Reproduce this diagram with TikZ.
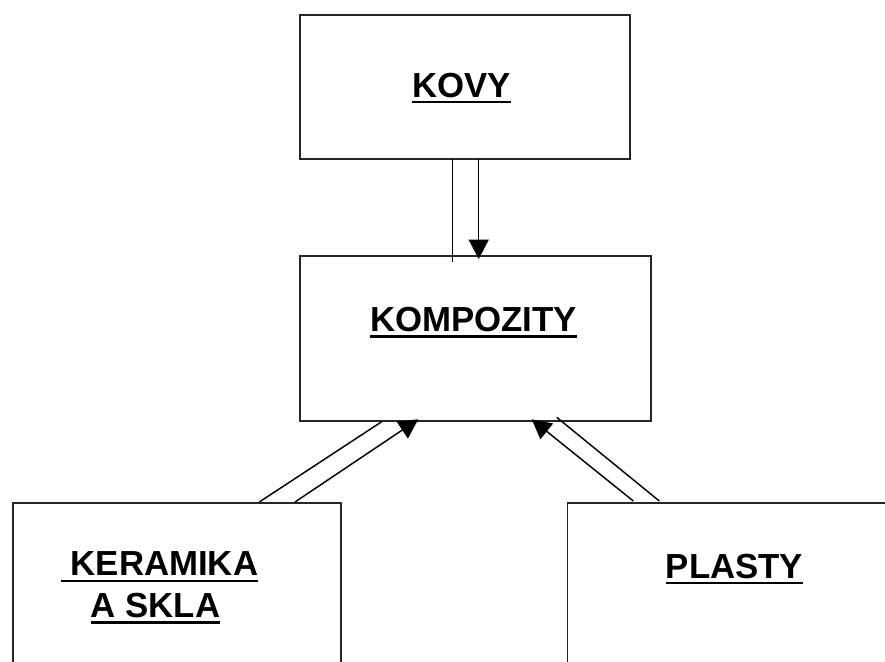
\documentclass[tikz,border=0pt]{standalone}
\usepackage{fontspec}
\setmainfont{Liberation Sans}
\usetikzlibrary{arrows.meta,calc}
\newcommand\ulbox[1]{\setbox0\hbox{#1}\rlap{\rule[-4.7pt]{\wd0}{2pt}}\box0}
\begin{document}
\begin{tikzpicture}[x=0.75pt,y=-0.75pt,
  box/.style={draw=black!85,line width=1.4pt,rectangle,inner sep=0pt,outer sep=0pt},
  lbl/.style={font=\fontsize{26.1}{31.3}\selectfont\bfseries,inner sep=0pt,outer sep=0pt},
  conn/.style={line width=1.1pt},
  arr/.style={conn,-{Triangle[length=14.5pt,width=15pt]}}]
\useasboundingbox (0,0) rectangle (885,661);
\clip (0,0) rectangle (885,661);
\fill[white] (0,0) rectangle (885,661);
% boxes
\node[box,minimum width=247.5pt,minimum height=108pt] (kovy) at (465,87) {};
\node[box,minimum width=263.25pt,minimum height=123.75pt] (komp) at (475.5,338.5) {};
\node[box,minimum width=246pt,minimum height=150pt] (ker) at (176.7,603) {};
\node[box,minimum width=249pt,minimum height=150pt] (pl) at (733.5,603) {};
% labels
\node[lbl,anchor=base] (kovyT) at (461.5,97) {\ulbox{KOVY}};
\node[lbl,anchor=base] (kompT) at (473.5,331.7) {\ulbox{KOMPOZITY}};
\node[lbl,anchor=base] (plT) at (734.5,578) {\ulbox{PLASTY}};
\node[lbl,anchor=base west,align=left] (kerT) at (61,617.7) {\ulbox{\ KERAMIKA}\\\hspace*{22.3pt}\ulbox{A SKLA}};
% connectors
\draw[conn] ($(kovy.south west)+(152.3,0)$) -- ($(komp.north west)+(152.3,6)$);
\draw[arr] ($(kovy.south west)+(178.7,0)$) -- ($(komp.north west)+(178.7,3)$);
\draw[conn] ($(ker.north west)+(246.6,-1)$) -- ($(komp.south west)+(81.7,0.7)$);
\draw[arr] ($(ker.north west)+(282.3,-1)$) -- ($(komp.south west)+(118.3,-1.7)$);
\draw[conn] ($(pl.north west)+(91.8,-2)$) -- ($(komp.south west)+(256.7,-3.7)$);
\draw[arr] ($(pl.north west)+(65.8,-2)$) -- ($(komp.south west)+(231.7,-1.7)$);
\end{tikzpicture}
\end{document}
